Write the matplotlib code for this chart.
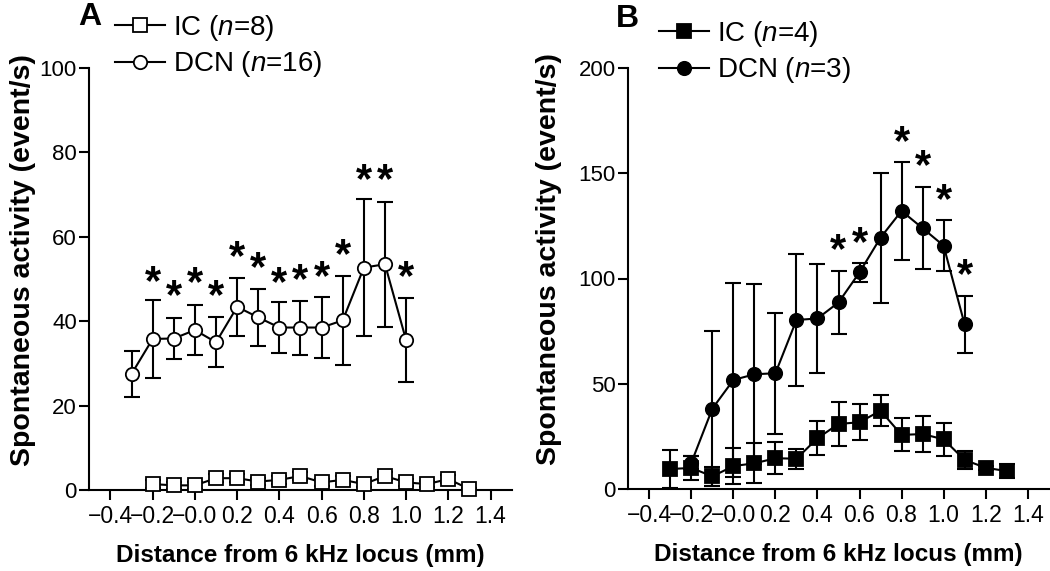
import matplotlib
matplotlib.use('Agg')
import matplotlib.pyplot as plt
import matplotlib.transforms as mtransforms

plt.rcParams['font.family'] = ['Liberation Sans', 'DejaVu Sans']
plt.rcParams['mathtext.fontset'] = 'custom'
plt.rcParams['mathtext.rm'] = 'Liberation Sans'
plt.rcParams['mathtext.it'] = 'Liberation Sans:italic'

# ---------------- data ----------------
# Panel A
a_ic_x = [-0.2, -0.1, 0.0, 0.1, 0.2, 0.3, 0.4, 0.5, 0.6, 0.7, 0.8, 0.9, 1.0, 1.1, 1.2, 1.3]
a_ic_y = [1.4, 1.1, 1.1, 2.8, 2.8, 2.0, 2.4, 3.3, 1.8, 2.4, 1.4, 3.3, 1.8, 1.4, 2.6, 0.2]
a_ic_err = [1.0, 0.8, 0.8, 1.0, 1.0, 0.9, 0.9, 1.0, 0.8, 0.9, 0.8, 1.0, 0.8, 0.8, 0.9, 0.2]

a_dcn_x = [-0.3, -0.2, -0.1, 0.0, 0.1, 0.2, 0.3, 0.4, 0.5, 0.6, 0.7, 0.8, 0.9, 1.0]
a_dcn_y = [27.5, 35.8, 35.9, 37.9, 35.0, 43.4, 40.9, 38.5, 38.5, 38.5, 40.2, 52.7, 53.5, 35.5]
a_dcn_err = [5.4, 9.2, 4.8, 6.0, 5.9, 6.9, 6.7, 6.0, 6.4, 7.2, 10.6, 16.2, 14.8, 10.0]

a_star_x = [-0.2, -0.1, 0.0, 0.1, 0.2, 0.3, 0.4, 0.5, 0.6, 0.7, 0.8, 0.9, 1.0]
a_star_y = [52.1, 48.6, 51.7, 48.6, 58.0, 55.3, 51.7, 52.5, 53.3, 58.5, 76.2, 76.2, 53.3]

# Panel B
b_ic_x = [-0.3, -0.2, -0.1, 0.0, 0.1, 0.2, 0.3, 0.4, 0.5, 0.6, 0.7, 0.8, 0.9, 1.0, 1.1, 1.2, 1.3]
b_ic_y = [9.5, 10.0, 6.0, 10.9, 12.2, 14.6, 14.4, 24.1, 30.9, 31.7, 37.2, 25.7, 26.1, 23.6, 13.8, 10.1, 8.5]
b_ic_err = [9.0, 5.5, 4.6, 8.5, 9.5, 7.5, 4.8, 8.0, 10.3, 8.5, 7.5, 7.8, 8.7, 7.8, 4.2, 1.0, 3.5]

b_dcn_x = [-0.2, -0.1, 0.0, 0.1, 0.2, 0.3, 0.4, 0.5, 0.6, 0.7, 0.8, 0.9, 1.0, 1.1]
b_dcn_y = [12.5, 38.2, 51.8, 54.5, 55.0, 80.3, 81.0, 88.6, 102.9, 119.4, 132.1, 123.9, 115.6, 78.2]
b_dcn_err = [3.0, 36.9, 45.9, 42.7, 28.8, 31.5, 25.8, 15.0, 4.4, 30.9, 23.4, 19.4, 12.0, 13.6]

b_star_x = [0.5, 0.6, 0.8, 0.9, 1.0, 1.1]
b_star_y = [119.1, 122.3, 170.5, 158.7, 142.9, 107.2]

x_ticks = [-0.4, -0.2, 0.0, 0.2, 0.4, 0.6, 0.8, 1.0, 1.2, 1.4]
x_ticklabels = ['\u22120.4', '\u22120.2', '\u22120.0', '0.2', '0.4', '0.6', '0.8', '1.0', '1.2', '1.4']
a_yticks = [0, 20, 40, 60, 80, 100]
b_yticks = [0, 50, 100, 150, 200]

ylabel = 'Spontaneous activity (event/s)'
xlabel = 'Distance from 6 kHz locus (mm)'

# ---------------- figure ----------------
W, H = 1050, 571
fig = plt.figure(figsize=(W / 100, H / 100), dpi=100)

axA = fig.add_axes([89.3 / W, 1 - 490 / H, 422.4 / W, 422 / H])
axB = fig.add_axes([628.3 / W, 1 - 489 / H, 420.4 / W, 421 / H])

LW = 1.5
CAP = 5.5


def draw(ax, x, y, err, marker, filled, label, ms):
    ax.errorbar(x, y, yerr=err, fmt='none', ecolor='black', elinewidth=LW,
                capsize=CAP, capthick=LW, zorder=2, clip_on=False)
    ax.plot(x, y, '-', color='black', lw=LW, marker=marker, ms=ms,
            mfc='black' if filled else 'white', mec='black', mew=1.3,
            zorder=3, clip_on=False, label=label)


def style(ax, ylim, yticks, ylab_x):
    ax.set_xlim(-0.5, 1.5)
    ax.set_ylim(*ylim)
    ax.set_xticks(x_ticks)
    ax.set_xticklabels(x_ticklabels)
    ax.set_yticks(yticks)
    for s in ['top', 'right']:
        ax.spines[s].set_visible(False)
    for s in ['left', 'bottom']:
        ax.spines[s].set_linewidth(LW)
    ax.tick_params(axis='both', direction='out', length=7, width=LW, color='black')
    ax.tick_params(axis='x', pad=4, labelsize=16.5)
    ax.tick_params(axis='y', pad=2, labelsize=16)
    ax.set_xlabel(xlabel, fontsize=17.5, fontweight='bold', labelpad=11)
    ax.set_ylabel(ylabel, fontsize=20.5, fontweight='bold')
    ax.yaxis.set_label_coords(ylab_x, 0.545)


def stars(ax, xs, ys):
    tr = mtransforms.offset_copy(ax.transData, fig=fig, x=0, y=-17, units='points')
    for xv, yv in zip(xs, ys):
        ax.text(xv, yv, '*', transform=tr, ha='center', va='baseline',
                fontsize=30, fontweight='bold', clip_on=False)


# Panel A
draw(axA, a_ic_x, a_ic_y, a_ic_err, 's', False, 'IC ($\\mathit{n}$=8)', 10.3)
draw(axA, a_dcn_x, a_dcn_y, a_dcn_err, 'o', False, 'DCN ($\\mathit{n}$=16)', 9.6)
style(axA, (0, 100), a_yticks, (36 - 89.3) / 422.4)
stars(axA, a_star_x, a_star_y)

# Panel B
draw(axB, b_ic_x, b_ic_y, b_ic_err, 's', True, 'IC ($\\mathit{n}$=4)', 10)
draw(axB, b_dcn_x, b_dcn_y, b_dcn_err, 'o', True, 'DCN ($\\mathit{n}$=3)', 9.6)
style(axB, (0, 200), b_yticks, (562 - 628.3) / 420.4)
stars(axB, b_star_x, b_star_y)

# legends
for ax, lx, ly in [(axA, 115, 46), (axB, 659, 52)]:
    ax.legend(loc='center left', bbox_to_anchor=(lx / W, 1 - ly / H),
              bbox_transform=fig.transFigure, frameon=False, fontsize=20,
              handlelength=1.8, handletextpad=0.3, labelspacing=0.25,
              borderpad=0, borderaxespad=0, numpoints=1)

# panel letters
fig.text(90 / W, 1 - 17 / H, 'A', fontsize=23, fontweight='bold', ha='center', va='center')
fig.text(627 / W, 1 - 19 / H, 'B', fontsize=23, fontweight='bold', ha='center', va='center')

fig.savefig('out.png', dpi=100)
